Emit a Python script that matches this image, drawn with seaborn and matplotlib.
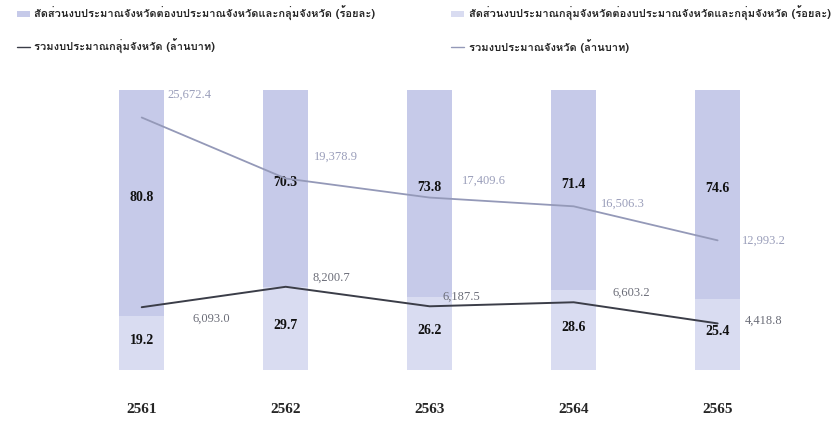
import pandas as pd
import numpy as np
import matplotlib
matplotlib.use('Agg')
import matplotlib.pyplot as plt
import seaborn as sns
from matplotlib import font_manager
from matplotlib.ft2font import FT2Font
from matplotlib.patches import Patch
from matplotlib.lines import Line2D

# Data
years = ['2561', '2562', '2563', '2564', '2565']
province_share = [80.8, 70.3, 73.8, 71.4, 74.6]   # % of combined budget
group_share = [19.2, 29.7, 26.2, 28.6, 25.4]
province_total = [25672.4, 19378.9, 17409.6, 16506.3, 12993.2]  # million baht
group_total = [6093.0, 8200.7, 6187.5, 6603.2, 4418.8]

legend_labels = [
    'สัดส่วนงบประมาณจังหวัดต่องบประมาณจังหวัดและกลุ่มจังหวัด (ร้อยละ)',
    'สัดส่วนงบประมาณกลุ่มจังหวัดต่องบประมาณจังหวัดและกลุ่มจังหวัด (ร้อยละ)',
    'รวมงบประมาณกลุ่มจังหวัด (ล้านบาท)',
    'รวมงบประมาณจังหวัด (ล้านบาท)',
]

# Find an installed font with Thai glyphs
thai_family = None
for f in font_manager.fontManager.ttflist:
    try:
        if 0x0E2A in FT2Font(f.fname).get_charmap():
            thai_family = f.name
            break
    except Exception:
        pass

sns.set_theme(style='white')
fams = ([thai_family] if thai_family else []) + ['DejaVu Sans']
plt.rcParams['font.family'] = fams

col_prov_bar = '#c6cae9'
col_group_bar = '#d9dcf1'
col_prov_line = '#9499b8'
col_group_line = '#3b3d48'

df = pd.DataFrame({'year': years, 'total': [p + g for p, g in zip(province_share, group_share)],
                   'group': group_share})

fig = plt.figure(figsize=(8.4, 4.23), dpi=100)
ax = fig.add_axes([0.083, 0.125, 0.857, 0.662])

sns.barplot(data=df, x='year', y='total', color=col_prov_bar, width=0.31,
            saturation=1, linewidth=0, ax=ax)
sns.barplot(data=df, x='year', y='group', color=col_group_bar, width=0.31,
            saturation=1, linewidth=0, ax=ax)
ax.set_ylim(0, 100)
ax.set_xlim(-0.5, 4.5)
ax.set_xlabel('')
ax.set_ylabel('')
ax.set_yticks([])
for s in ax.spines.values():
    s.set_visible(False)
ax.tick_params(axis='x', length=0, pad=24)
for t in ax.get_xticklabels():
    t.set_fontfamily('Liberation Serif')
    t.set_fontweight('bold')
    t.set_fontsize(11)

serif = 'Liberation Serif'
for i, (p, g) in enumerate(zip(province_share, group_share)):
    ax.text(i, g + p / 2 + 2, f'{p:.1f}', ha='center', va='center', fontsize=10,
            fontweight='bold', family=serif, color='#111111')
    ax.text(i, g / 2 + 1, f'{g:.1f}', ha='center', va='center', fontsize=10,
            fontweight='bold', family=serif, color='#111111')

ax2 = ax.twinx()
x = np.arange(len(years))
sns.lineplot(x=x, y=province_total, color=col_prov_line, lw=1.3, ax=ax2)
sns.lineplot(x=x, y=group_total, color=col_group_line, lw=1.4, ax=ax2)
ax2.set_ylim(-400, 28500)
ax2.set_yticks([])
ax2.set_ylabel('')
for s in ax2.spines.values():
    s.set_visible(False)

prov_off = [(0.33, 2400), (0.35, 2200), (0.38, 1700), (0.34, 300), (0.32, 0)]
for i, v in enumerate(province_total):
    dx, dy = prov_off[i]
    ax2.text(i + dx, v + dy, f'{v:,.1f}', ha='center', va='center', fontsize=9,
             family=serif, color='#9a9eba')
group_off = [(0.48, -1200), (0.32, 900), (0.22, 1000), (0.4, 1000), (0.32, 300)]
for i, v in enumerate(group_total):
    dx, dy = group_off[i]
    ax2.text(i + dx, v + dy, f'{v:,.1f}', ha='center', va='center', fontsize=9,
             family=serif, color='#6b6d78')

h_prov_bar = Patch(facecolor=col_prov_bar, edgecolor='none')
h_group_bar = Patch(facecolor=col_group_bar, edgecolor='none')
h_group_line = Line2D([], [], color=col_group_line, lw=1)
h_prov_line = Line2D([], [], color=col_prov_line, lw=1)

leg_kw = dict(frameon=False, fontsize=8, handlelength=1.2, handleheight=0.5,
              handletextpad=0.4, labelspacing=1.6, loc='upper left')
leg1 = fig.legend([h_prov_bar, h_group_line], [legend_labels[0], legend_labels[2]],
                  bbox_to_anchor=(0.008, 1.01), **leg_kw)
leg2 = fig.legend([h_group_bar, h_prov_line], [legend_labels[1], legend_labels[3]],
                  bbox_to_anchor=(0.525, 1.01), **leg_kw)
for leg in (leg1, leg2):
    leg.get_texts()[0].set_fontweight('bold')
    leg.get_texts()[1].set_fontweight('bold')

fig.savefig('out.png', dpi=100)
